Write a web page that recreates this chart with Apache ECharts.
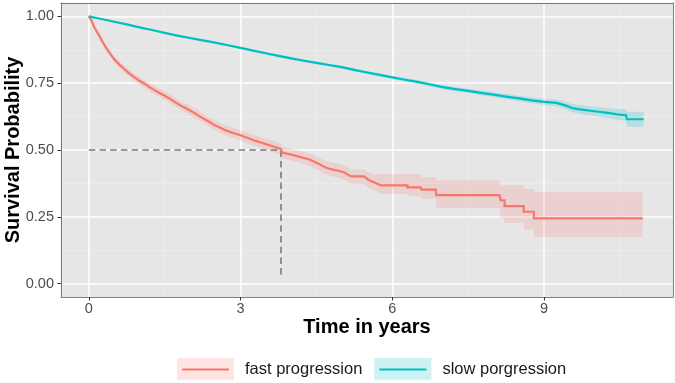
<!DOCTYPE html>
<html><head><meta charset="utf-8">
<script src="https://cdn.jsdelivr.net/npm/echarts@6/dist/echarts.min.js"></script>
<style>html,body{margin:0;padding:0;background:#fff}#c{width:675px;height:383px}</style>
</head><body><div id="c"></div>
<script>
const seriesNames = ['fast progression', 'slow porgression'];
const xTicks = [0, 3, 6, 9];
const yTicks = [0, 0.25, 0.5, 0.75, 1.0];
const xMinor = [1.5, 4.5, 7.5, 10.5];
const yMinor = [0.125, 0.375, 0.625, 0.875];

// Kaplan-Meier path vertices (years, survival)
const fastTime = [0, 0.05, 0.1, 0.15, 0.2, 0.25, 0.3, 0.35, 0.4, 0.45,
  0.5, 0.6, 0.7, 0.8, 0.9, 1.0, 1.1, 1.2, 1.3, 1.4,
  1.5, 1.6, 1.7, 1.8, 1.9, 2.0, 2.1, 2.2, 2.3, 2.4,
  2.5, 2.6, 2.7, 2.8, 2.9, 3.0, 3.1, 3.2, 3.3, 3.4,
  3.5, 3.6, 3.7, 3.8, 3.83, 3.95, 4.1, 4.2, 4.35, 4.45,
  4.55, 4.65, 4.75, 4.9, 5.05, 5.18, 5.44, 5.54, 5.65, 5.77,
  6.3, 6.3, 6.56, 6.58, 6.86, 6.87, 8.12, 8.14, 8.22, 8.22,
  8.6, 8.6, 8.8, 8.8, 10.95];
const fastSurv = [1.0, 0.985, 0.962, 0.945, 0.93, 0.912, 0.895, 0.88, 0.866, 0.853,
  0.84, 0.82, 0.803, 0.787, 0.772, 0.759, 0.748, 0.735, 0.724, 0.713,
  0.703, 0.692, 0.68, 0.668, 0.658, 0.648, 0.637, 0.625, 0.614, 0.603,
  0.592, 0.583, 0.574, 0.567, 0.561, 0.555, 0.548, 0.541, 0.534, 0.528,
  0.522, 0.516, 0.51, 0.503, 0.49, 0.485, 0.478, 0.473, 0.465, 0.457,
  0.448, 0.437, 0.43, 0.424, 0.416, 0.401, 0.401, 0.387, 0.378, 0.368,
  0.368, 0.36, 0.36, 0.352, 0.352, 0.331, 0.331, 0.312, 0.312, 0.29,
  0.29, 0.269, 0.269, 0.244, 0.244];
const fastLower = [1.0, 0.978, 0.954, 0.936, 0.921, 0.902, 0.885, 0.869, 0.855, 0.842,
  0.828, 0.808, 0.79, 0.774, 0.759, 0.745, 0.734, 0.72, 0.709, 0.698,
  0.687, 0.676, 0.664, 0.652, 0.641, 0.631, 0.62, 0.608, 0.596, 0.585,
  0.574, 0.565, 0.555, 0.548, 0.542, 0.536, 0.528, 0.521, 0.514, 0.508,
  0.501, 0.495, 0.489, 0.482, 0.468, 0.463, 0.456, 0.45, 0.442, 0.433,
  0.424, 0.412, 0.405, 0.398, 0.39, 0.375, 0.373, 0.358, 0.349, 0.335,
  0.335, 0.327, 0.327, 0.318, 0.318, 0.283, 0.283, 0.245, 0.245, 0.228,
  0.228, 0.203, 0.203, 0.174, 0.174];
const fastUpper = [1.0, 0.992, 0.97, 0.954, 0.939, 0.922, 0.905, 0.891, 0.877, 0.864,
  0.852, 0.832, 0.816, 0.8, 0.785, 0.773, 0.762, 0.75, 0.739, 0.728,
  0.719, 0.708, 0.696, 0.684, 0.675, 0.665, 0.654, 0.642, 0.632, 0.621,
  0.61, 0.601, 0.593, 0.586, 0.58, 0.574, 0.568, 0.561, 0.554, 0.548,
  0.543, 0.537, 0.531, 0.524, 0.512, 0.507, 0.5, 0.496, 0.488, 0.481,
  0.472, 0.462, 0.455, 0.45, 0.442, 0.427, 0.427, 0.415, 0.407, 0.41,
  0.41, 0.41, 0.41, 0.398, 0.398, 0.387, 0.387, 0.368, 0.368, 0.368,
  0.368, 0.354, 0.354, 0.342, 0.342];

const slowTime = [0, 0.25, 0.5, 0.75, 1.0, 1.25, 1.5, 1.75, 2.0, 2.25,
  2.5, 2.75, 3.0, 3.25, 3.5, 3.75, 4.0, 4.25, 4.5, 4.75,
  5.0, 5.25, 5.5, 5.75, 6.0, 6.25, 6.5, 6.75, 7.0, 7.25,
  7.5, 7.75, 8.0, 8.25, 8.5, 8.75, 9.0, 9.25, 9.45, 9.55,
  9.7, 10.0, 10.3, 10.5, 10.62, 10.64, 10.97];
const slowSurv = [1.0, 0.99, 0.98, 0.97, 0.959, 0.949, 0.938, 0.928, 0.919, 0.91,
  0.902, 0.892, 0.882, 0.872, 0.862, 0.852, 0.843, 0.834, 0.826, 0.818,
  0.81, 0.8, 0.79, 0.781, 0.772, 0.763, 0.755, 0.745, 0.735, 0.728,
  0.721, 0.714, 0.707, 0.7, 0.693, 0.686, 0.68, 0.676, 0.665, 0.657,
  0.652, 0.645, 0.638, 0.632, 0.63, 0.615, 0.615];
const slowLower = [1.0, 0.988, 0.977, 0.967, 0.956, 0.946, 0.935, 0.924, 0.915, 0.906,
  0.898, 0.888, 0.878, 0.868, 0.857, 0.847, 0.838, 0.829, 0.821, 0.813,
  0.804, 0.794, 0.784, 0.775, 0.766, 0.756, 0.748, 0.738, 0.727, 0.72,
  0.713, 0.705, 0.698, 0.69, 0.683, 0.675, 0.668, 0.663, 0.651, 0.642,
  0.636, 0.628, 0.619, 0.611, 0.609, 0.587, 0.587];
const slowUpper = [1.0, 0.992, 0.983, 0.973, 0.962, 0.952, 0.941, 0.932, 0.923, 0.914,
  0.906, 0.896, 0.886, 0.876, 0.867, 0.857, 0.848, 0.839, 0.831, 0.823,
  0.816, 0.806, 0.796, 0.787, 0.778, 0.77, 0.762, 0.752, 0.743, 0.736,
  0.729, 0.723, 0.716, 0.71, 0.703, 0.697, 0.692, 0.689, 0.679, 0.672,
  0.668, 0.662, 0.657, 0.653, 0.652, 0.643, 0.643];

const medianTime = [0, 3.8, 3.8];
const medianSurv = [0.5, 0.5, 0.028];

const FONT = '"Liberation Sans", Arial, Helvetica, sans-serif';
const lineColors = ['#F8766D', '#00BFC4'];
const bandColors = ['rgba(248,118,109,0.2)', 'rgba(0,191,196,0.2)'];

function bandSeries(name, t, lo, hi, color) {
  return {
    type: 'custom', name: name, silent: true, clip: true, z: 1,
    data: t.map((x, i) => [x, lo[i], hi[i]]),
    encode: { x: 0, y: [1, 2] },
    renderItem: function (params, api) {
      if (params.dataIndex !== 0) return null;
      const upper = [], lower = [];
      for (let i = 0; i < t.length; i++) {
        upper.push(api.coord([t[i], hi[i]]));
        lower.push(api.coord([t[i], lo[i]]));
      }
      return { type: 'polygon', shape: { points: upper.concat(lower.reverse()) }, style: { fill: color } };
    }
  };
}

function curve(name, t, s, color) {
  return {
    type: 'line', name: name, symbol: 'none', showSymbol: false, z: 4,
    data: t.map((x, i) => [x, s[i]]),
    lineStyle: { color: color, width: 2.2, join: 'miter' }, itemStyle: { color: color }
  };
}

const chart = echarts.init(document.getElementById('c'), null, { renderer: 'canvas' });
chart.setOption({
  animation: false,
  backgroundColor: '#ffffff',
  grid: { left: 61, right: 2, top: 3, bottom: 86, show: true, backgroundColor: '#e6e6e6', borderWidth: 0, containLabel: false, outerBoundsMode: 'none' },
  xAxis: [{
    type: 'value', min: -0.55, max: 11.55, position: 'bottom',
    axisLine: { show: true, onZero: false, lineStyle: { color: '#7f7f7f', width: 1 } },
    axisTick: { show: true, customValues: xTicks, length: 3.5, lineStyle: { color: '#333333', width: 1 } },
    axisLabel: { customValues: xTicks, color: '#4d4d4d', fontSize: 14.5, margin: 4, fontFamily: FONT },
    splitLine: { show: true, lineStyle: { color: '#ffffff', width: 1.6 } },
    name: 'Time in years', nameLocation: 'middle', nameGap: 20, nameMoveOverlap: false,
    nameTextStyle: { color: '#000000', fontWeight: 'bold', fontSize: 20, fontFamily: FONT }
  }, {
    type: 'value', min: -0.55, max: 11.55, position: 'top',
    axisLine: { show: true, onZero: false, lineStyle: { color: '#9e6464', width: 1 } },
    axisTick: { show: false, customValues: xMinor },
    axisLabel: { show: false, customValues: xMinor },
    splitLine: { show: true, lineStyle: { color: '#eeeeee', width: 0.8 } }
  }],
  yAxis: [{
    type: 'value', min: -0.05, max: 1.05, position: 'left',
    axisLine: { show: true, onZero: false, lineStyle: { color: '#9e6464', width: 1 } },
    axisTick: { show: true, customValues: yTicks, length: 3.5, lineStyle: { color: '#333333', width: 1 } },
    axisLabel: { customValues: yTicks, formatter: v => v.toFixed(2), color: '#4d4d4d', fontSize: 14.5, margin: 7, fontFamily: FONT },
    splitLine: { show: true, lineStyle: { color: '#ffffff', width: 1.6 } },
    name: 'Survival Probability', nameLocation: 'middle', nameGap: 38, nameMoveOverlap: false,
    nameTextStyle: { color: '#000000', fontWeight: 'bold', fontSize: 20, fontFamily: FONT }
  }, {
    type: 'value', min: -0.05, max: 1.05, position: 'right',
    axisLine: { show: true, onZero: false, lineStyle: { color: '#7f7f7f', width: 1 } },
    axisTick: { show: false, customValues: yMinor },
    axisLabel: { show: false, customValues: yMinor },
    splitLine: { show: true, lineStyle: { color: '#eeeeee', width: 0.8 } }
  }],
  legend: [{
    data: seriesNames.map((n, i) => ({ name: n, itemStyle: { color: bandColors[i], borderWidth: 0 } })),
    left: 177, top: 358, padding: 0, orient: 'horizontal', icon: 'rect',
    itemWidth: 57, itemHeight: 22, itemGap: 12, selectedMode: false,
    itemStyle: { borderWidth: 0 },
    textStyle: { fontSize: 16.5, color: '#1a1a1a', fontFamily: FONT, padding: [0, 0, 0, 6] }
  }, {
    data: seriesNames.map((n, i) => ({ name: n, itemStyle: { color: lineColors[i], borderWidth: 0 } })),
    left: 182, top: 361, padding: 0, orient: 'horizontal', icon: 'rect',
    itemWidth: 47, itemHeight: 2.2, itemGap: 22, selectedMode: false,
    itemStyle: { borderWidth: 0 },
    textStyle: { fontSize: 16.5, color: 'rgba(0,0,0,0)', lineHeight: 2.2, fontFamily: FONT, padding: [0, 0, 0, 6] }
  }],
  series: [
    bandSeries('fast CI', fastTime, fastLower, fastUpper, bandColors[0]),
    bandSeries('slow CI', slowTime, slowLower, slowUpper, bandColors[1]),
    {
      type: 'line', name: 'median', silent: true, symbol: 'none', z: 3,
      data: medianTime.map((x, i) => [x, medianSurv[i]]),
      lineStyle: { color: '#7a7a7a', width: 1.6, type: [6.5, 4.2] }
    },
    curve(seriesNames[0], fastTime, fastSurv, lineColors[0]),
    curve(seriesNames[1], slowTime, slowSurv, lineColors[1])
  ]
});
</script></body></html>
